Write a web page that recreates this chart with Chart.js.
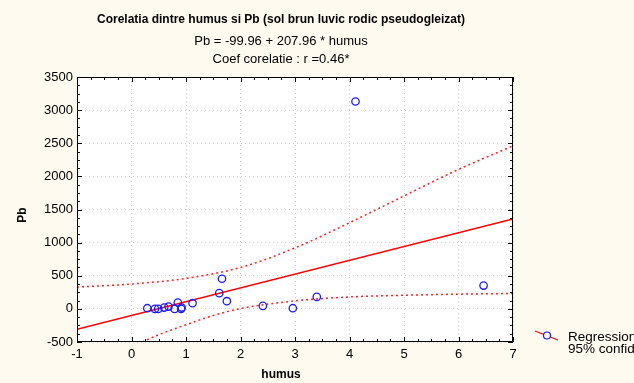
<!DOCTYPE html>
<html lang="en">
<head>
<meta charset="UTF-8" />
<title>Corelatia dintre humus si Pb</title>
<script src="https://cdn.jsdelivr.net/npm/chart.js"></script>
<style>
  html, body { margin: 0; padding: 0; background: #fefaef; }
  #wrap { width: 634px; height: 383px; position: relative; }
</style>
</head>
<body>
<div id="wrap"><canvas id="corrChart"></canvas></div>
<script>
  // measured samples (humus %, Pb)
  const humus = [0.29, 0.43, 0.49, 0.60, 0.68, 0.79, 0.85, 0.91, 0.92, 1.12, 1.61, 1.66, 1.75, 2.41, 2.96, 3.40, 4.11, 6.46];
  const pb = [10, 0, 0, 20, 35, 0, 95, 0, 20, 86, 237, 455, 116, 45, 10, 181, 3130, 352];

  // regression line Pb = -99.96 + 207.96 * humus, ends at the axis limits
  const regX = [-1, 7];
  const regY = [-308, 1356];

  // 95% confidence band
  const upX = [-1, 0, 1, 2, 3, 4, 5, 6, 7];
  const upY = [330, 375, 460, 625, 920, 1300, 1705, 2105, 2460];
  const lowX = [0.2, 0.5, 1, 1.5, 2, 3, 4, 5, 6, 7];
  const lowY = [-500, -390, -240, -100, 5, 120, 180, 205, 222, 232];

  const xLimits = [-1, 7];
  const yLimits = [-500, 3500];

  const titleLines = [
    'Corelatia dintre humus si Pb (sol brun luvic rodic pseudogleizat)',
    'Pb = -99.96 + 207.96 * humus',
    'Coef corelatie : r =0.46*'
  ];
  const legendLabels = ['Regression', '95% confid.'];

  const pts = (xs, ys) => xs.map((v, i) => ({ x: v, y: ys[i] }));

  const decor = {
    id: 'decor',
    beforeDraw(chart) {
      const { ctx, chartArea: a } = chart;
      ctx.save();
      ctx.fillStyle = '#fefaef';
      ctx.fillRect(0, 0, chart.width, chart.height);
      ctx.fillStyle = '#ffffff';
      ctx.fillRect(a.left, a.top, a.right - a.left, a.bottom - a.top);
      ctx.restore();
    },
    afterDraw(chart) {
      const { ctx, chartArea: a, scales: { x, y } } = chart;
      ctx.save();

      // inward ticks on all four sides
      ctx.strokeStyle = '#000';
      ctx.lineWidth = 1;
      ctx.beginPath();
      for (let v = xLimits[0]; v <= xLimits[1] + 1e-9; v += 0.25) {
        const px = Math.round(x.getPixelForValue(v)) + 0.5;
        const len = Math.abs(v - Math.round(v)) < 1e-9 ? 5 : 3;
        ctx.moveTo(px, a.bottom); ctx.lineTo(px, a.bottom - len);
        ctx.moveTo(px, a.top); ctx.lineTo(px, a.top + len);
      }
      for (let v = yLimits[0]; v <= yLimits[1]; v += 125) {
        const py = Math.round(y.getPixelForValue(v)) + 0.5;
        const len = v % 500 === 0 ? 5 : 3;
        ctx.moveTo(a.left, py); ctx.lineTo(a.left + len, py);
        ctx.moveTo(a.right, py); ctx.lineTo(a.right - len, py);
      }
      ctx.stroke();
      ctx.strokeRect(a.left + 0.5, a.top + 0.5, a.right - a.left - 1, a.bottom - a.top - 1);

      // titles
      ctx.fillStyle = '#000';
      ctx.textAlign = 'center';
      ctx.textBaseline = 'middle';
      ctx.font = 'bold 12px "Liberation Sans", Arial, sans-serif';
      ctx.fillText(titleLines[0], 281, 20);
      ctx.font = '13px "Liberation Sans", Arial, sans-serif';
      ctx.fillText(titleLines[1], 281, 41);
      ctx.fillText(titleLines[2], 281, 59);

      ctx.font = 'bold 12px "Liberation Sans", Arial, sans-serif';
      ctx.fillText('humus', 281, 375);
      ctx.save();
      ctx.translate(23, 215);
      ctx.rotate(-Math.PI / 2);
      ctx.fillText('Pb', 0, 0);
      ctx.restore();

      // legend (runs off the right edge like the original)
      ctx.strokeStyle = '#ff0000';
      ctx.lineWidth = 1.2;
      ctx.beginPath();
      ctx.moveTo(535, 331); ctx.lineTo(558, 340);
      ctx.stroke();
      ctx.fillStyle = '#fefaef';
      ctx.strokeStyle = '#1a1aff';
      ctx.beginPath();
      ctx.arc(547, 335.5, 3.5, 0, Math.PI * 2);
      ctx.fill();
      ctx.stroke();
      ctx.fillStyle = '#000';
      ctx.textAlign = 'left';
      ctx.font = '13.5px "Liberation Sans", Arial, sans-serif';
      ctx.fillText(legendLabels[0], 568, 337);
      ctx.fillText(legendLabels[1], 568, 349);

      ctx.restore();
    }
  };

  new Chart(document.getElementById('corrChart'), {
    type: 'scatter',
    data: {
      datasets: [
        {
          label: 'Pb',
          data: pts(humus, pb),
          showLine: false,
          pointStyle: 'circle',
          pointRadius: 3.7,
          pointBorderWidth: 1.3,
          pointBorderColor: '#1a1aff',
          pointBackgroundColor: 'rgba(0,0,0,0)'
        },
        {
          label: 'Regression',
          data: pts(regX, regY),
          showLine: true,
          borderColor: '#ff0000',
          borderWidth: 1.5,
          pointRadius: 0
        },
        {
          label: '95% upper',
          data: pts(upX, upY),
          showLine: true,
          borderColor: '#ff2020',
          borderWidth: 1.5,
          borderDash: [2, 3],
          cubicInterpolationMode: 'monotone',
          pointRadius: 0
        },
        {
          label: '95% lower',
          data: pts(lowX, lowY),
          showLine: true,
          borderColor: '#ff2020',
          borderWidth: 1.5,
          borderDash: [2, 3],
          cubicInterpolationMode: 'monotone',
          pointRadius: 0
        }
      ]
    },
    options: {
      responsive: true,
      maintainAspectRatio: false,
      animation: false,
      layout: { padding: { top: 77, right: 121, left: 0, bottom: 0 } },
      plugins: {
        legend: { display: false },
        tooltip: { enabled: false }
      },
      scales: {
        x: {
          type: 'linear',
          min: xLimits[0],
          max: xLimits[1],
          afterFit: (s) => { s.height = 41; },
          ticks: {
            stepSize: 1,
            color: '#000',
            padding: 5,
            autoSkip: false,
            maxRotation: 0,
            callback: (v) => String(v),
            font: { family: '"Liberation Sans", Arial, sans-serif', size: 13 }
          },
          grid: { color: '#cfcfcf', lineWidth: 1, drawTicks: false },
          border: { display: false, dash: [1, 3] }
        },
        y: {
          type: 'linear',
          min: yLimits[0],
          max: yLimits[1],
          afterFit: (s) => { s.width = 77; },
          ticks: {
            stepSize: 500,
            color: '#000',
            padding: 4,
            callback: (v) => String(v),
            font: { family: '"Liberation Sans", Arial, sans-serif', size: 13 }
          },
          grid: { color: '#cfcfcf', lineWidth: 1, drawTicks: false },
          border: { display: false, dash: [1, 3] }
        }
      }
    },
    plugins: [decor]
  });
</script>
</body>
</html>
